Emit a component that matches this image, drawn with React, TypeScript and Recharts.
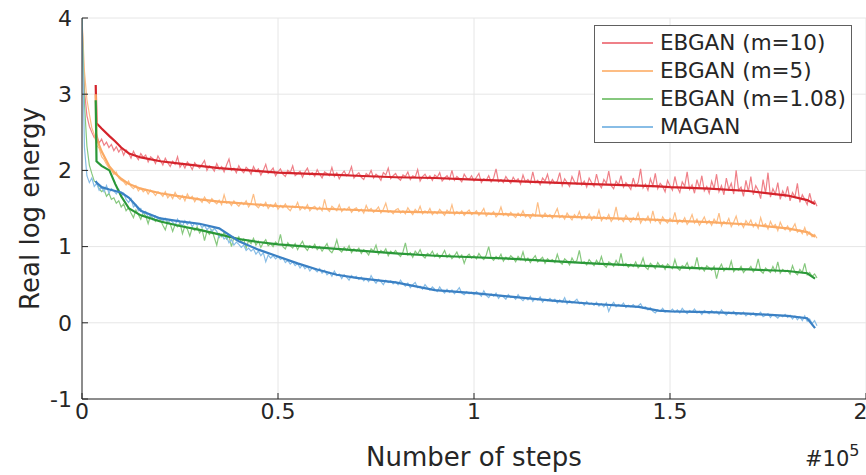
import React from 'react';
import { LineChart, Line, XAxis, YAxis, CartesianGrid, Legend } from 'recharts';

// x is in units of 10^5 steps; raw (noisy) curves are sampled every NOISY_STEP
const NOISY_STEP = 0.00625;

const RED_RAW = [
  4.0, 3.05, 2.72, 2.58, 2.5, 2.43, 2.47, 2.36, 2.41, 2.33, 2.37, 2.3, 2.34, 2.26, 2.31, 2.24,
  2.29, 2.2, 2.27, 2.23, 2.16, 2.25, 2.19, 2.14, 2.22, 2.17, 2.2, 2.11, 2.18, 2.15, 2.09, 2.19,
  2.13, 2.07, 2.16, 2.1, 2.05, 2.12, 2.08, 2.18, 2.04, 2.09, 2.03, 2.11, 2.07, 2.01, 2.1, 2.06,
  2.03, 2.08, 2.13, 2.0, 2.06, 2.04, 1.99, 2.09, 2.02, 2.05, 1.98, 2.07, 2.15, 2.0, 2.03, 1.97,
  2.06, 2.0, 1.97, 2.04, 2.01, 1.95, 2.05, 1.99, 2.02, 1.94, 2.0, 2.08, 1.96, 1.99, 2.03, 1.93,
  1.98, 2.02, 1.95, 1.92, 2.0, 1.97, 2.06, 1.93, 1.96, 1.99, 1.91, 1.98, 2.03, 1.94, 1.97, 1.92,
  2.01, 1.95, 1.9, 1.98, 1.96, 1.93, 2.04, 1.92, 1.97, 1.89, 1.95, 1.99, 1.93, 1.96, 2.05, 1.9,
  1.94, 1.97, 1.91, 1.88, 1.96, 1.93, 2.0, 1.9, 1.95, 1.92, 1.87, 1.97, 1.94, 2.03, 1.89, 1.93,
  1.96, 1.9, 1.87, 1.94, 1.92, 1.98, 1.88, 1.93, 1.91, 2.01, 1.86, 1.92, 1.95, 1.89, 1.93, 1.87,
  1.94, 1.91, 1.97, 1.86, 1.9, 1.93, 1.88, 2.0, 1.87, 1.92, 1.89, 1.85, 1.95, 1.9, 1.88, 1.93,
  1.86, 1.91, 1.96, 1.84, 1.89, 1.87, 1.93, 1.85, 1.9, 2.02, 1.85, 1.88, 1.84, 1.92, 1.87, 1.83,
  1.91, 1.86, 1.89, 1.82, 1.94, 1.85, 1.88, 1.83, 1.98, 1.84, 1.87, 1.81, 1.9, 1.86, 1.95, 1.82,
  1.88, 1.83, 1.86, 1.97, 1.8, 1.89, 1.84, 1.79, 1.92, 1.85, 1.82, 2.0, 1.81, 1.86, 1.78, 1.9,
  1.84, 1.79, 1.95, 1.82, 1.77, 1.88, 1.83, 1.99, 1.8, 1.76, 1.86, 1.81, 1.93, 1.78, 1.84, 1.8,
  1.75, 1.9, 1.79, 1.84, 2.02, 1.77, 1.82, 1.74, 1.89, 1.8, 1.96, 1.76, 1.83, 1.79, 1.72, 1.87,
  1.8, 1.74, 1.92, 1.78, 1.71, 1.85, 1.79, 1.98, 1.75, 1.81, 1.7, 1.88, 1.77, 1.93, 1.73, 1.79,
  1.7, 1.86, 1.76, 1.95, 1.72, 1.8, 1.68, 1.9, 1.75, 1.83, 1.69, 2.0, 1.74, 1.78, 1.66, 1.87,
  1.72, 1.92, 1.68, 1.8, 1.74, 1.63, 1.88, 1.7, 1.97, 1.65, 1.76, 1.69, 1.84, 1.62, 1.73, 1.66,
  1.79, 1.6, 1.71, 1.65, 1.83, 1.58, 1.68, 1.62, 1.55, 1.7, 1.57, 1.6, 1.53,
];

const ORANGE_RAW = [
  4.0, 3.3, 2.93, 2.74, 2.56, 2.47, 2.33, 2.29, 2.18, 2.14, 2.08, 2.03, 2.0, 1.95, 1.98, 1.9,
  1.87, 1.85, 1.81, 1.86, 1.79, 1.76, 1.8, 1.73, 1.77, 1.72, 1.75, 1.69, 1.74, 1.71, 1.67, 1.72,
  1.7, 1.66, 1.72, 1.64, 1.68, 1.63, 1.71, 1.65, 1.62, 1.67, 1.6, 1.69, 1.63, 1.66, 1.59, 1.64,
  1.62, 1.58, 1.65, 1.6, 1.57, 1.63, 1.59, 1.56, 1.61, 1.55, 1.68, 1.57, 1.59, 1.54, 1.6, 1.56,
  1.53, 1.58, 1.55, 1.6, 1.52, 1.57, 1.69, 1.54, 1.51, 1.56, 1.53, 1.58, 1.5, 1.55, 1.52, 1.57,
  1.49, 1.54, 1.51, 1.56, 1.5, 1.47, 1.53, 1.51, 1.58, 1.48, 1.52, 1.49, 1.55, 1.47, 1.51, 1.53,
  1.48, 1.52, 1.47, 1.62, 1.49, 1.46, 1.53, 1.5, 1.47, 1.55, 1.46, 1.5, 1.48, 1.52, 1.45, 1.49,
  1.51, 1.46, 1.49, 1.44, 1.54, 1.47, 1.5, 1.45, 1.48, 1.52, 1.44, 1.49, 1.57, 1.45, 1.47, 1.43,
  1.48, 1.5, 1.44, 1.47, 1.43, 1.51, 1.46, 1.42, 1.49, 1.45, 1.53, 1.43, 1.47, 1.44, 1.5, 1.42,
  1.46, 1.43, 1.49, 1.45, 1.41, 1.48, 1.44, 1.55, 1.42, 1.46, 1.43, 1.47, 1.41, 1.45, 1.48, 1.42,
  1.44, 1.47, 1.41, 1.45, 1.5, 1.4, 1.44, 1.42, 1.46, 1.39, 1.43, 1.52, 1.41, 1.44, 1.4, 1.45,
  1.41, 1.38, 1.44, 1.4, 1.47, 1.39, 1.42, 1.37, 1.43, 1.4, 1.58, 1.41, 1.38, 1.44, 1.39, 1.42,
  1.37, 1.43, 1.5, 1.38, 1.41, 1.36, 1.44, 1.39, 1.35, 1.42, 1.38, 1.46, 1.36, 1.4, 1.37, 1.43,
  1.35, 1.4, 1.37, 1.48, 1.34, 1.39, 1.36, 1.42, 1.33, 1.38, 1.52, 1.35, 1.37, 1.33, 1.41, 1.36,
  1.32, 1.38, 1.35, 1.44, 1.31, 1.37, 1.34, 1.4, 1.32, 1.47, 1.33, 1.36, 1.3, 1.39, 1.34, 1.31,
  1.37, 1.33, 1.45, 1.3, 1.35, 1.32, 1.38, 1.29, 1.34, 1.42, 1.31, 1.36, 1.28, 1.33, 1.39, 1.3,
  1.34, 1.28, 1.36, 1.31, 1.44, 1.27, 1.33, 1.3, 1.37, 1.26, 1.32, 1.4, 1.28, 1.31, 1.25, 1.34,
  1.29, 1.35, 1.26, 1.31, 1.24, 1.38, 1.27, 1.3, 1.23, 1.33, 1.26, 1.29, 1.21, 1.32, 1.25, 1.22,
  1.27, 1.2, 1.24, 1.3, 1.19, 1.22, 1.17, 1.25, 1.15, 1.19, 1.13, 1.16, 1.11,
];

const GREEN_RAW = [
  4.0, 2.88, 2.32, 2.07, 1.96, 1.86, 1.84, 1.76, 1.72, 1.75, 1.66, 1.7, 1.62, 1.64, 1.57, 1.6,
  1.52, 1.56, 1.47, 1.51, 1.44, 1.38, 1.48, 1.42, 1.36, 1.45, 1.4, 1.3, 1.41, 1.37, 1.33, 1.38,
  1.35, 1.28, 1.22, 1.33, 1.3, 1.2, 1.29, 1.26, 1.31, 1.17, 1.27, 1.23, 1.14, 1.25, 1.21, 1.26,
  1.18, 1.23, 1.08, 1.2, 1.16, 1.22, 1.12, 1.02, 1.17, 1.13, 1.19, 1.1, 1.14, 1.0, 1.12, 1.08,
  1.13, 1.06, 1.1, 0.98, 1.08, 1.04, 1.11, 1.02, 1.07, 0.99, 1.05, 1.09, 1.01, 1.04, 1.0, 1.06,
  1.03, 1.16, 1.0, 0.97, 1.05, 1.01, 0.98, 1.04, 0.96, 1.02, 1.07, 0.99, 0.95, 1.01, 0.98, 1.03,
  0.96, 1.0, 0.94, 0.99, 1.04, 0.95, 0.92, 0.98, 1.09, 0.96, 0.93, 0.99, 0.95, 1.01, 0.92, 0.97,
  0.94, 0.98, 0.91, 0.96, 0.93, 0.89, 0.97, 0.94, 1.02, 0.9, 0.95, 0.92, 0.97, 0.88, 0.94, 0.91,
  0.95, 0.9, 0.87, 0.93, 1.05, 0.89, 0.92, 0.86, 0.94, 0.9, 0.96, 0.88, 0.85, 0.91, 0.89, 0.94,
  0.87, 0.91, 0.85, 0.89, 0.95, 0.86, 0.9, 0.84, 0.88, 0.93, 0.85, 0.89, 0.78, 0.87, 0.9, 0.85,
  0.88, 0.84, 0.91, 0.86, 0.83, 0.89, 1.0, 0.85, 0.82, 0.87, 0.84, 0.9, 0.81, 0.86, 0.83, 0.88,
  0.85, 0.8, 0.87, 0.83, 0.93, 0.81, 0.85, 0.79, 0.84, 0.88, 0.8, 0.83, 0.86, 0.78, 0.84, 0.81,
  0.83, 0.79, 0.9, 0.8, 0.77, 0.84, 0.81, 0.76, 0.85, 0.79, 0.82, 0.95, 0.78, 0.8, 0.76, 0.83,
  0.79, 0.75, 0.82, 0.77, 0.87, 0.76, 0.73, 0.8, 0.78, 0.74, 0.82, 0.76, 0.91, 0.75, 0.78, 0.73,
  0.77, 0.74, 0.8, 0.72, 0.76, 0.85, 0.73, 0.7, 0.78, 0.75, 0.71, 0.79, 0.74, 0.76, 0.7, 0.77,
  0.74, 0.71, 0.83, 0.72, 0.69, 0.75, 0.73, 0.79, 0.7, 0.74, 0.72, 0.86, 0.7, 0.73, 0.68, 0.75,
  0.72, 0.69, 0.74, 0.58, 0.71, 0.77, 0.68, 0.72, 0.7, 0.81, 0.67, 0.71, 0.69, 0.74, 0.66, 0.7,
  0.7, 0.74, 0.67, 0.71, 0.84, 0.68, 0.65, 0.72, 0.69, 0.66, 0.74, 0.67, 0.8, 0.65, 0.7, 0.67,
  0.69, 0.64, 0.75, 0.66, 0.63, 0.7, 0.66, 0.78, 0.63, 0.66, 0.61, 0.64, 0.59,
];

const BLUE_RAW = [
  4.0, 2.3, 1.93, 1.84, 1.9, 1.79, 1.83, 1.74, 1.78, 1.72, 1.8, 1.7, 1.76, 1.73, 1.69, 1.75,
  1.66, 1.7, 1.62, 1.58, 1.63, 1.52, 1.55, 1.47, 1.5, 1.43, 1.46, 1.38, 1.42, 1.35, 1.4, 1.36,
  1.38, 1.33, 1.37, 1.3, 1.35, 1.32, 1.28, 1.36, 1.31, 1.27, 1.34, 1.29, 1.33, 1.26, 1.31, 1.28,
  1.3, 1.25, 1.28, 1.22, 1.26, 1.19, 1.24, 1.2, 1.12, 1.16, 1.1, 1.13, 1.05, 1.09, 1.02, 1.06,
  1.03, 0.99, 1.02, 0.95, 0.98, 0.94, 0.97, 0.9, 0.94, 0.88, 0.92, 0.8, 0.89, 0.85, 0.88, 0.84,
  0.87, 0.83, 0.85, 0.79, 0.82, 0.77, 0.8, 0.75, 0.78, 0.72, 0.76, 0.71, 0.74, 0.68, 0.72, 0.7,
  0.67, 0.71, 0.65, 0.69, 0.63, 0.66, 0.61, 0.68, 0.62, 0.64, 0.58, 0.63, 0.6, 0.56, 0.62, 0.59,
  0.61, 0.57, 0.6, 0.55, 0.58, 0.54, 0.62, 0.56, 0.52, 0.57, 0.54, 0.5, 0.56, 0.53, 0.55, 0.51,
  0.54, 0.5, 0.56, 0.51, 0.48, 0.52, 0.46, 0.5, 0.53, 0.46, 0.48, 0.44, 0.5, 0.46, 0.43, 0.47,
  0.44, 0.41, 0.47, 0.42, 0.39, 0.44, 0.4, 0.43, 0.38, 0.42, 0.46, 0.39, 0.37, 0.41, 0.38, 0.4,
  0.37, 0.41, 0.38, 0.35, 0.42, 0.36, 0.33, 0.38, 0.35, 0.39, 0.32, 0.36, 0.34, 0.31, 0.37, 0.33,
  0.34, 0.31, 0.37, 0.32, 0.29, 0.33, 0.3, 0.35, 0.28, 0.32, 0.3, 0.34, 0.27, 0.31, 0.29, 0.32,
  0.28, 0.31, 0.26, 0.3, 0.27, 0.33, 0.25, 0.29, 0.26, 0.28, 0.31, 0.25, 0.27, 0.23, 0.28, 0.24,
  0.26, 0.23, 0.27, 0.22, 0.25, 0.21, 0.26, 0.15, 0.23, 0.27, 0.21, 0.24, 0.22, 0.26, 0.2, 0.23,
  0.21, 0.24, 0.2, 0.22, 0.25, 0.19, 0.21, 0.17, 0.2, 0.15, 0.13, 0.17, 0.15, 0.19, 0.14, 0.16,
  0.15, 0.18, 0.14, 0.17, 0.13, 0.19, 0.15, 0.12, 0.16, 0.14, 0.18, 0.13, 0.15, 0.11, 0.16, 0.14,
  0.12, 0.16, 0.13, 0.15, 0.11, 0.17, 0.13, 0.1, 0.14, 0.12, 0.15, 0.1, 0.13, 0.11, 0.14, 0.09,
  0.12, 0.1, 0.13, 0.09, 0.11, 0.14, 0.08, 0.1, 0.12, 0.07, 0.11, 0.09, 0.06, 0.1, 0.08, 0.11,
  0.07, 0.1, 0.05, 0.09, 0.04, 0.08, 0.03, 0.09, 0.02, 0.05, -0.01, 0.03, -0.04,
];

const SMOOTH_X = [
  0.035, 0.037, 0.05, 0.07, 0.085, 0.1, 0.12, 0.15, 0.2, 0.25, 0.3, 0.35, 0.4, 0.45, 0.5, 0.55,
  0.6, 0.65, 0.7, 0.8, 0.9, 1.0, 1.1, 1.2, 1.3, 1.42, 1.47, 1.5, 1.6, 1.7, 1.8, 1.85, 1.87,
];
const RED_SMOOTH = [
  3.12, 2.62, 2.55, 2.45, 2.38, 2.3, 2.22, 2.17, 2.12, 2.09, 2.06, 2.03, 2.01, 1.99, 1.97, 1.96,
  1.95, 1.94, 1.93, 1.91, 1.9, 1.88, 1.86, 1.84, 1.82, 1.8, 1.79, 1.78, 1.76, 1.73, 1.67, 1.61, 1.56,
];
const ORANGE_SMOOTH = [
  3.0, 2.42, 2.25, 2.05, 1.96, 1.89, 1.82, 1.76, 1.7, 1.66, 1.62, 1.59, 1.57, 1.55, 1.53, 1.52,
  1.5, 1.49, 1.48, 1.46, 1.45, 1.44, 1.42, 1.4, 1.38, 1.36, 1.35, 1.34, 1.32, 1.29, 1.24, 1.19, 1.13,
];
const GREEN_SMOOTH = [
  2.92, 2.12, 2.06, 2.0, 1.82, 1.66, 1.5, 1.41, 1.33, 1.27, 1.22, 1.16, 1.1, 1.06, 1.03, 1.01,
  0.99, 0.97, 0.95, 0.91, 0.88, 0.86, 0.84, 0.81, 0.78, 0.75, 0.74, 0.73, 0.71, 0.7, 0.68, 0.65, 0.58,
];
const BLUE_SMOOTH = [
  1.86, 1.84, 1.78, 1.75, 1.73, 1.71, 1.64, 1.47, 1.37, 1.33, 1.3, 1.24, 1.07, 0.96, 0.87, 0.78,
  0.7, 0.63, 0.59, 0.53, 0.43, 0.39, 0.34, 0.29, 0.25, 0.21, 0.16, 0.15, 0.14, 0.12, 0.09, 0.06, -0.07,
];

const X_TICKS = [0, 0.5, 1, 1.5, 2];
const Y_TICKS = [-1, 0, 1, 2, 3, 4];
const SERIES_NAMES = ['EBGAN (m=10)', 'EBGAN (m=5)', 'EBGAN (m=1.08)', 'MAGAN'];
const LIGHT_COLORS = ['#ef8088', '#fdbd84', '#86c87e', '#88bde6'];
const DARK_COLORS = ['#d4232b', '#fbaa64', '#2a9838', '#3a80c4'];

const noisyData = RED_RAW.map((v, i) => ({
  x: i * NOISY_STEP,
  red: v,
  orange: ORANGE_RAW[i],
  green: GREEN_RAW[i],
  blue: BLUE_RAW[i],
}));

const smoothData = SMOOTH_X.map((x, i) => ({
  x,
  red: RED_SMOOTH[i],
  orange: ORANGE_SMOOTH[i],
  green: GREEN_SMOOTH[i],
  blue: BLUE_SMOOTH[i],
}));

const KEYS = ['red', 'orange', 'green', 'blue'];
const FONT = '"DejaVu Sans", sans-serif';
const TEXT = '#262626';

const LegendBox = () => (
  <div
    style={{
      width: 258,
      height: 118,
      border: '1.5px solid #606060',
      background: '#fff',
      fontFamily: FONT,
      fontSize: 21.5,
      color: TEXT,
      boxSizing: 'border-box',
      paddingTop: 3,
    }}
  >
    {SERIES_NAMES.map((n, i) => (
      <div key={n} style={{ display: 'flex', alignItems: 'center', height: 28, lineHeight: '28px' }}>
        <div
          style={{
            width: 51,
            height: 2,
            background: LIGHT_COLORS[i],
            marginLeft: 7,
            marginRight: 7,
            flex: '0 0 auto',
          }}
        />
        <span>{n}</span>
      </div>
    ))}
  </div>
);

export default function App() {
  return (
    <div style={{ position: 'absolute', left: 0, top: 0, width: 866, height: 475, overflow: 'hidden', background: '#fff' }}>
      <LineChart width={866} height={475} margin={{ top: 18, right: 0, bottom: 0, left: 0 }}>
        <CartesianGrid stroke="#e6e6e6" strokeWidth={1} />
        <XAxis
          type="number"
          dataKey="x"
          domain={[0, 2]}
          ticks={X_TICKS}
          height={76}
          tickSize={-6}
          tickMargin={10}
          stroke={TEXT}
          tick={{ fill: TEXT, fontSize: 22, fontFamily: FONT }}
          tickFormatter={(v: number) => String(v)}
          allowDataOverflow
          label={{
            value: 'Number of steps',
            position: 'insideBottom',
            offset: 9,
            style: { fill: TEXT, fontSize: 26, fontFamily: FONT },
          }}
        />
        <YAxis
          type="number"
          domain={[-1, 4]}
          ticks={Y_TICKS}
          width={82}
          tickSize={-6}
          tickMargin={16}
          stroke={TEXT}
          tick={{ fill: TEXT, fontSize: 22, fontFamily: FONT }}
          allowDataOverflow
          label={{
            value: 'Real log energy',
            angle: -90,
            position: 'insideLeft',
            offset: 30,
            style: { fill: TEXT, fontSize: 26, fontFamily: FONT, textAnchor: 'middle' },
          }}
        />
        {KEYS.map((k, i) => (
          <Line
            key={'n' + k}
            data={noisyData}
            dataKey={k}
            type="linear"
            stroke={LIGHT_COLORS[i]}
            strokeWidth={1.2}
            dot={false}
            activeDot={false}
            isAnimationActive={false}
            legendType="none"
          />
        ))}
        {KEYS.map((k, i) => (
          <Line
            key={'s' + k}
            data={smoothData}
            dataKey={k}
            type="linear"
            stroke={DARK_COLORS[i]}
            strokeWidth={2.2}
            dot={false}
            activeDot={false}
            isAnimationActive={false}
            legendType="none"
          />
        ))}
        <Legend
          layout="horizontal"
          align="center"
          verticalAlign="middle"
          content={() => <LegendBox />}
          wrapperStyle={{ position: 'absolute', left: 594, top: 25, width: 258, height: 118 }}
        />
      </LineChart>
      <div
        style={{
          position: 'absolute',
          left: 805,
          top: 446,
          fontFamily: FONT,
          fontSize: 21,
          color: TEXT,
          lineHeight: '26px',
          whiteSpace: 'nowrap',
        }}
      >
        #10<sup style={{ fontSize: 16, verticalAlign: 'top', position: 'relative', top: -8 }}>5</sup>
      </div>
    </div>
  );
}
